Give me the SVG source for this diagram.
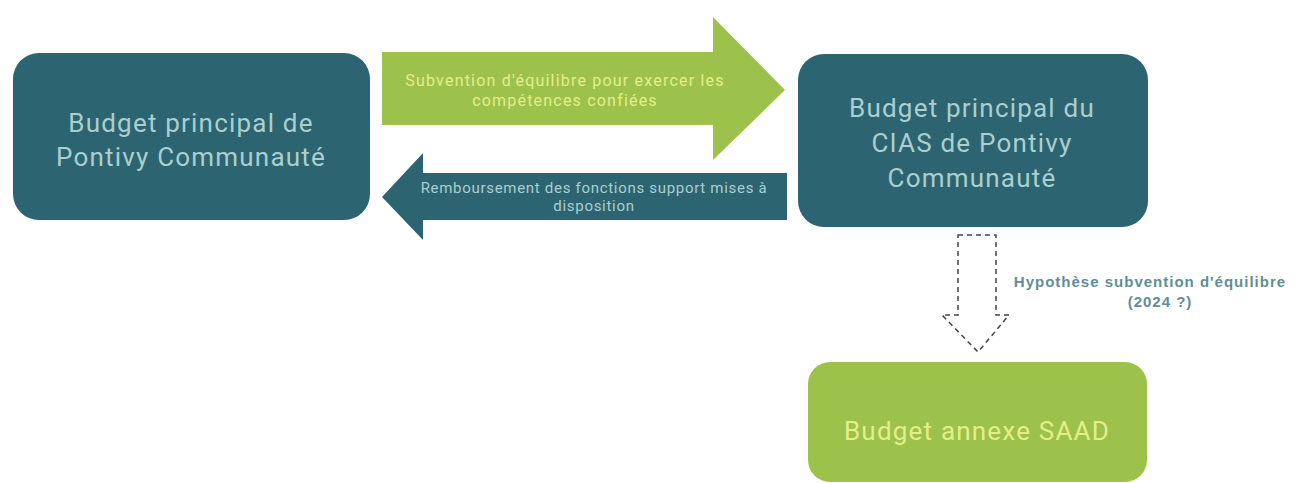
<svg xmlns="http://www.w3.org/2000/svg" width="1301" height="483" viewBox="0 0 1301 483">
<style>
.teal{fill:#2d6471;}
.green{fill:#9cc24c;}
.nt{font-family:Roboto,"Liberation Sans",sans-serif;font-size:26px;letter-spacing:1.2px;text-anchor:middle;}
.tl{fill:#a9cfd0;}
.gl{fill:#e4ee8a;}
.at{font-family:Roboto,"Liberation Sans",sans-serif;text-anchor:middle;}
.lbl{font-family:"Liberation Sans",Arial,sans-serif;font-size:15px;letter-spacing:1px;fill:#5f8e98;text-anchor:middle;font-weight:bold;}
.dash{fill:none;stroke:#444;stroke-width:1.5;stroke-dasharray:5,4;}
</style>
<rect width="1301" height="483" fill="#ffffff"/>
<g id="node-pontivy">
<rect class="teal" x="13" y="53" width="357" height="167" rx="26"/>
<text class="nt tl" x="191" y="132">Budget principal de</text>
<text class="nt tl" x="191" y="166">Pontivy Communauté</text>
</g>
<g id="node-cias">
<rect class="teal" x="798" y="54" width="350" height="173" rx="26"/>
<text class="nt tl" x="972" y="117">Budget principal du</text>
<text class="nt tl" x="972" y="152">CIAS de Pontivy</text>
<text class="nt tl" x="972" y="187">Communauté</text>
</g>
<g id="node-saad">
<rect class="green" x="808" y="362" width="339" height="120" rx="22"/>
<text class="nt gl" x="977" y="440">Budget annexe SAAD</text>
</g>
<g id="connectors">
<g id="arrow-subvention">
<polygon class="green" points="382,52 713,52 713,17 785,90 713,160 713,125 382,125"/>
<text class="at gl" x="565" y="86" font-size="16" letter-spacing="1.2">Subvention d'équilibre pour exercer les</text>
<text class="at gl" x="565" y="106" font-size="16" letter-spacing="1.2">compétences confiées</text>
</g>
<g id="arrow-remboursement">
<polygon class="teal" points="787,173 423,173 423,153 382,197 423,240 423,220 787,220"/>
<text class="at tl" x="594" y="193" font-size="15" letter-spacing="0.7">Remboursement des fonctions support mises à</text>
<text class="at tl" x="594" y="211" font-size="15" letter-spacing="0.7">disposition</text>
</g>
<g id="arrow-hypothese">
<polygon class="dash" points="958,235 996,235 996,315 1009,315 978,352 942,315 958,315"/>
<text class="lbl" x="1150" y="287">Hypothèse subvention d'équilibre</text>
<text class="lbl" x="1160" y="307">(2024 ?)</text>
</g>
</g>
</svg>
